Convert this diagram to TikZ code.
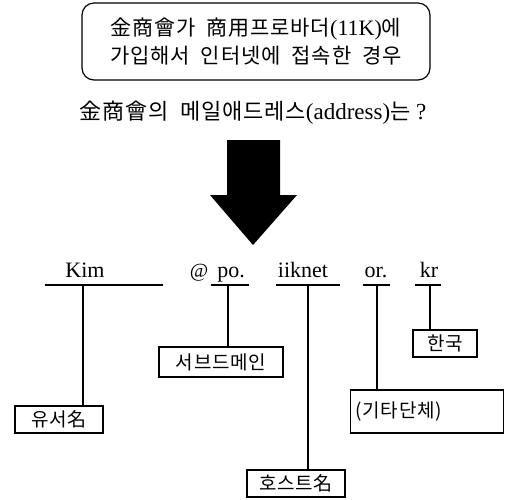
\documentclass[tikz,border=0pt]{standalone}
\usepackage{fontspec}
\setmainfont{Liberation Serif}
\newfontfamily\krfont[WordSpace=2,LetterSpace=4]{Noto Sans CJK KR}
\usepackage{tikz}

\begin{document}
\begin{tikzpicture}[x=1pt,y=-1pt,line width=1.2pt,
    word/.style={anchor=base,font=\fontsize{22}{24}\selectfont,inner sep=0pt},
    part/.style={draw,font=\krfont\fontsize{19}{22}\selectfont,inner sep=0pt}
    ]
  \useasboundingbox (0,0) rectangle (505,499);
  % question
  \node[draw,rounded corners=12pt,minimum width=348pt,minimum height=77pt,align=center,
        font=\fontsize{22}{28}\selectfont] (case) at (256,41.5)
    {{\krfont\fontsize{21}{28}\selectfont 金商會가 商用프로바더}(11K){\krfont\fontsize{21}{28}\selectfont 에}\\
     {\krfont\fontsize{21}{28}\selectfont 가입해서 인터넷에 접속한 경우}};
  \node[font=\fontsize{23}{24}\selectfont] (ask) at (253,113)
    {{\krfont\fontsize{22}{24}\selectfont 金商會의 메일애드레스}(address){\krfont\fontsize{22}{24}\selectfont 는} ?};
  \fill (227,140) -- (280,140) -- (280,195) -- (297,195) -- (253,245)
        -- (210,195) -- (227,195) -- cycle;
  % address
  \node[word] (kim)    at (85,277)  {Kim};
  \node[word,font=\fontsize{20}{22}\selectfont] (at) at (199,277) {@};
  \node[word] (po)     at (231,277) {po.};
  \node[word] (iiknet) at (303,277) {iiknet};
  \node[word] (or)     at (376,277) {or.};
  \node[word] (kr)     at (429,277) {kr};
  \foreach \a/\b/\t/\n in {45/163/83/kimtick,211/249/228/potick,276/340/308/iiktick,
                           363/390/377/ortick,415/441/430/krtick}{
    \draw (\a,285) -- (\b,285);
    \coordinate (\n) at (\t,285);
  }
  \node[part,minimum width=88pt,minimum height=27pt]  (user)      at (59,419.5)  {유서名};
  \node[part,minimum width=124pt,minimum height=30pt] (subdomain) at (221,362)   {서브드메인};
  \node[part,minimum width=98pt,minimum height=27pt]  (host)      at (296,483.5) {호스트名};
  \node[part,minimum width=153pt,minimum height=43pt,text width=143pt,align=left]
                                                      (org)       at (427,411.5) {(기타단체)};
  \node[part,minimum width=64pt,minimum height=27pt]  (korea)     at (445,343.5) {한국};
  \draw (kimtick) -- (kimtick |- user.north);
  \draw (potick)  -- (potick |- subdomain.north);
  \draw (iiktick) -- (iiktick |- host.north);
  \draw (ortick)  -- (ortick |- org.north);
  \draw (krtick)  -- (krtick |- korea.north);
\end{tikzpicture}
\end{document}
